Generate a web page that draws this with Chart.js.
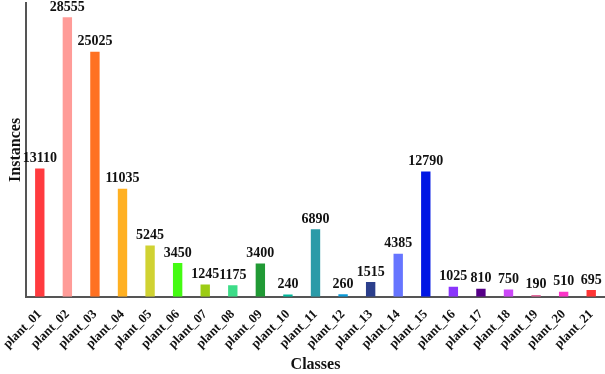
<!DOCTYPE html>
<html>
<head>
<meta charset="utf-8">
<script src="https://cdn.jsdelivr.net/npm/chart.js@4/dist/chart.umd.min.js"></script>
<style>
  html, body { margin: 0; padding: 0; background: #fff; }
  #wrap { width: 605px; height: 374px; }
</style>
</head>
<body>
<div id="wrap"><canvas id="c"></canvas></div>
<script>
const classes = ['plant_01','plant_02','plant_03','plant_04','plant_05','plant_06','plant_07',
  'plant_08','plant_09','plant_10','plant_11','plant_12','plant_13','plant_14',
  'plant_15','plant_16','plant_17','plant_18','plant_19','plant_20','plant_21'];
const instances = [13110, 28555, 25025, 11035, 5245, 3450, 1245, 1175, 3400, 240, 6890,
  260, 1515, 4385, 12790, 1025, 810, 750, 190, 510, 695];
const barColors = ['#ff3b3f','#ff9c98','#ff7122','#ffb022','#d0d232','#44fb12','#9ccc14',
  '#3ddc88','#219a35','#00b89c','#2b9ba8','#0a9ad8','#2c3f8c','#6675ff','#0016e4',
  '#8a35fb','#560088','#cc48f8','#e36c9e','#fc35c8','#ff3535'];

const serif = '"Liberation Serif", "Times New Roman", serif';

// Writes each bar's value just above it
const valueLabels = {
  id: 'valueLabels',
  afterDatasetsDraw(chart) {
    const ctx = chart.ctx;
    const meta = chart.getDatasetMeta(0);
    ctx.save();
    ctx.font = 'bold 14px ' + serif;
    ctx.fillStyle = '#111';
    ctx.textAlign = 'center';
    ctx.textBaseline = 'bottom';
    meta.data.forEach((bar, i) => {
      ctx.fillText(String(instances[i]), bar.x, bar.y - 3);
    });
    ctx.restore();
  }
};

new Chart(document.getElementById('c'), {
  type: 'bar',
  data: {
    labels: classes,
    datasets: [{
      data: instances,
      backgroundColor: barColors,
      barPercentage: 0.34,
      categoryPercentage: 1.0
    }]
  },
  options: {
    responsive: true,
    maintainAspectRatio: false,
    animation: false,
    // the plot runs slightly past the right edge of the canvas
    layout: { padding: { top: 3, right: -9, left: 8, bottom: 0 } },
    plugins: { legend: { display: false }, tooltip: { enabled: false } },
    scales: {
      x: {
        grid: { display: false, drawTicks: false },
        border: { display: true, color: '#555', width: 2 },
        ticks: {
          color: '#111',
          font: { family: serif, weight: 'bold', size: 13 },
          minRotation: 45, maxRotation: 45, padding: 10
        },
        title: {
          display: true, text: 'Classes', color: '#111',
          font: { family: serif, weight: 'bold', size: 16, lineHeight: 1 },
          padding: { top: 0, bottom: 1 }
        },
        // the rotated labels are measured a little generously; tighten the band
        // and let the end labels run into the margins
        afterFit(scale) {
          scale.height -= 5;
          scale.paddingLeft = 0;
          scale.paddingRight = 0;
        }
      },
      y: {
        min: 0, max: 30000,
        grid: { display: false, drawTicks: false },
        border: { display: true, color: '#555', width: 2 },
        ticks: { display: false },
        title: {
          display: true, text: 'Instances', color: '#111',
          font: { family: serif, weight: 'bold', size: 16, lineHeight: 1 },
          padding: { top: 0, bottom: 2 }
        }
      }
    }
  },
  plugins: [valueLabels]
});
</script>
</body>
</html>
